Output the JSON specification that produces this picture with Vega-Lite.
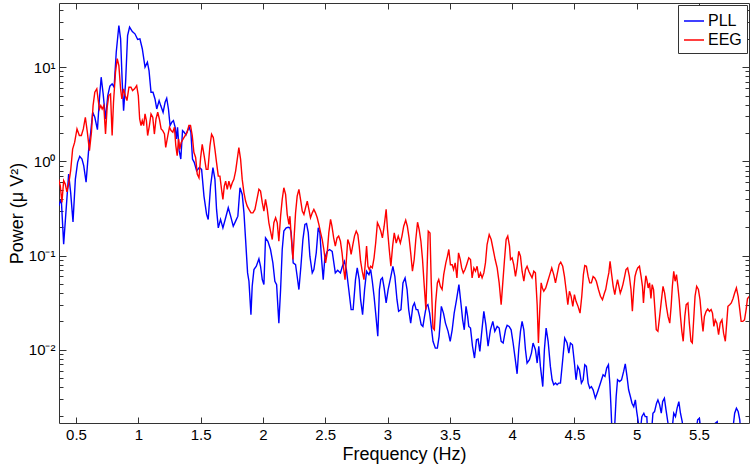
{
"$schema": "https://vega.github.io/schema/vega-lite/v6.json",
"width": 690, "height": 420,
"autosize": "none",
"padding": {"left": 59, "top": 3, "right": 1, "bottom": 41},
"background": "white",
"config": {
 "view": {"stroke": "#333333", "strokeWidth": 1},
 "font": "Liberation Sans",
 "axis": {"domain": false, "grid": false, "labelColor": "#000000", "titleColor": "#000000", "tickColor": "#333333", "labelFont": "Liberation Sans", "titleFont": "Liberation Sans", "labelFontSize": 15, "titleFontSize": 18, "titleFontWeight": "normal", "labelFlush": false, "labelOverlap": false}
},
"datasets": {"d": [
{"s":"PLL","f":0.360,"p":0.337},{"s":"PLL","f":0.382,"p":0.397},{"s":"PLL","f":0.401,"p":0.132},{"s":"PLL","f":0.419,"p":0.286},{"s":"PLL","f":0.441,"p":0.733},{"s":"PLL","f":0.457,"p":0.468},{"s":"PLL","f":0.476,"p":0.228},{"s":"PLL","f":0.495,"p":0.649},{"s":"PLL","f":0.513,"p":0.976},{"s":"PLL","f":0.530,"p":1.13},{"s":"PLL","f":0.548,"p":1.06},{"s":"PLL","f":0.562,"p":0.90},{"s":"PLL","f":0.581,"p":0.60},{"s":"PLL","f":0.602,"p":1.35},{"s":"PLL","f":0.618,"p":2.04},{"s":"PLL","f":0.634,"p":3.32},{"s":"PLL","f":0.651,"p":2.94},{"s":"PLL","f":0.672,"p":2.17},{"s":"PLL","f":0.688,"p":4.60},{"s":"PLL","f":0.702,"p":7.83},{"s":"PLL","f":0.718,"p":5.20},{"s":"PLL","f":0.737,"p":2.82},{"s":"PLL","f":0.755,"p":5.00},{"s":"PLL","f":0.772,"p":6.28},{"s":"PLL","f":0.790,"p":6.65},{"s":"PLL","f":0.806,"p":6.13},{"s":"PLL","f":0.823,"p":14.4},{"s":"PLL","f":0.844,"p":27.7},{"s":"PLL","f":0.858,"p":20.0},{"s":"PLL","f":0.871,"p":6.92},{"s":"PLL","f":0.882,"p":3.46},{"s":"PLL","f":0.898,"p":6.92},{"s":"PLL","f":0.914,"p":21.7},{"s":"PLL","f":0.930,"p":26.6},{"s":"PLL","f":0.952,"p":23.9},{"s":"PLL","f":0.973,"p":22.6},{"s":"PLL","f":0.995,"p":19.7},{"s":"PLL","f":1.013,"p":20.0},{"s":"PLL","f":1.032,"p":15.7},{"s":"PLL","f":1.054,"p":10.0},{"s":"PLL","f":1.073,"p":11.3},{"s":"PLL","f":1.086,"p":9.22},{"s":"PLL","f":1.102,"p":5.42},{"s":"PLL","f":1.118,"p":5.42},{"s":"PLL","f":1.134,"p":4.60},{"s":"PLL","f":1.148,"p":3.60},{"s":"PLL","f":1.167,"p":4.42},{"s":"PLL","f":1.180,"p":3.91},{"s":"PLL","f":1.199,"p":3.32},{"s":"PLL","f":1.215,"p":4.24},{"s":"PLL","f":1.228,"p":4.68},{"s":"PLL","f":1.242,"p":3.60},{"s":"PLL","f":1.255,"p":2.40},{"s":"PLL","f":1.269,"p":2.60},{"s":"PLL","f":1.282,"p":2.71},{"s":"PLL","f":1.296,"p":2.30},{"s":"PLL","f":1.306,"p":1.73},{"s":"PLL","f":1.315,"p":2.30},{"s":"PLL","f":1.328,"p":1.30},{"s":"PLL","f":1.341,"p":1.06},{"s":"PLL","f":1.355,"p":2.12},{"s":"PLL","f":1.368,"p":2.04},{"s":"PLL","f":1.382,"p":1.91},{"s":"PLL","f":1.395,"p":2.12},{"s":"PLL","f":1.409,"p":2.30},{"s":"PLL","f":1.422,"p":2.04},{"s":"PLL","f":1.435,"p":1.06},{"s":"PLL","f":1.449,"p":0.976},{"s":"PLL","f":1.468,"p":0.796},{"s":"PLL","f":1.490,"p":0.86},{"s":"PLL","f":1.508,"p":0.822},{"s":"PLL","f":1.527,"p":0.428},{"s":"PLL","f":1.548,"p":0.274},{"s":"PLL","f":1.561,"p":0.242},{"s":"PLL","f":1.580,"p":0.547},{"s":"PLL","f":1.599,"p":0.857},{"s":"PLL","f":1.615,"p":0.644},{"s":"PLL","f":1.628,"p":0.309},{"s":"PLL","f":1.642,"p":0.197},{"s":"PLL","f":1.660,"p":0.242},{"s":"PLL","f":1.679,"p":0.197},{"s":"PLL","f":1.701,"p":0.252},{"s":"PLL","f":1.722,"p":0.322},{"s":"PLL","f":1.741,"p":0.262},{"s":"PLL","f":1.762,"p":0.205},{"s":"PLL","f":1.781,"p":0.232},{"s":"PLL","f":1.799,"p":0.262},{"s":"PLL","f":1.816,"p":0.525},{"s":"PLL","f":1.834,"p":0.446},{"s":"PLL","f":1.848,"p":0.284},{"s":"PLL","f":1.861,"p":0.148},{"s":"PLL","f":1.877,"p":0.0655},{"s":"PLL","f":1.888,"p":0.0534},{"s":"PLL","f":1.904,"p":0.0236},{"s":"PLL","f":1.914,"p":0.0472},{"s":"PLL","f":1.928,"p":0.071},{"s":"PLL","f":1.947,"p":0.077},{"s":"PLL","f":1.968,"p":0.0923},{"s":"PLL","f":1.981,"p":0.077},{"s":"PLL","f":1.995,"p":0.0556},{"s":"PLL","f":2.008,"p":0.0492},{"s":"PLL","f":2.021,"p":0.154},{"s":"PLL","f":2.040,"p":0.142},{"s":"PLL","f":2.061,"p":0.116},{"s":"PLL","f":2.080,"p":0.0836},{"s":"PLL","f":2.096,"p":0.0534},{"s":"PLL","f":2.110,"p":0.0492},{"s":"PLL","f":2.128,"p":0.0192},{"s":"PLL","f":2.142,"p":0.0436},{"s":"PLL","f":2.155,"p":0.116},{"s":"PLL","f":2.168,"p":0.182},{"s":"PLL","f":2.187,"p":0.197},{"s":"PLL","f":2.203,"p":0.200},{"s":"PLL","f":2.217,"p":0.197},{"s":"PLL","f":2.227,"p":0.175},{"s":"PLL","f":2.243,"p":0.0836},{"s":"PLL","f":2.262,"p":0.080},{"s":"PLL","f":2.275,"p":0.060},{"s":"PLL","f":2.289,"p":0.0436},{"s":"PLL","f":2.305,"p":0.077},{"s":"PLL","f":2.321,"p":0.148},{"s":"PLL","f":2.337,"p":0.214},{"s":"PLL","f":2.350,"p":0.219},{"s":"PLL","f":2.364,"p":0.175},{"s":"PLL","f":2.377,"p":0.0985},{"s":"PLL","f":2.396,"p":0.0655},{"s":"PLL","f":2.409,"p":0.071},{"s":"PLL","f":2.428,"p":0.107},{"s":"PLL","f":2.444,"p":0.197},{"s":"PLL","f":2.457,"p":0.175},{"s":"PLL","f":2.471,"p":0.0908},{"s":"PLL","f":2.484,"p":0.0556},{"s":"PLL","f":2.497,"p":0.0946},{"s":"PLL","f":2.516,"p":0.111},{"s":"PLL","f":2.535,"p":0.116},{"s":"PLL","f":2.556,"p":0.111},{"s":"PLL","f":2.581,"p":0.0655},{"s":"PLL","f":2.600,"p":0.0698},{"s":"PLL","f":2.622,"p":0.0655},{"s":"PLL","f":2.638,"p":0.077},{"s":"PLL","f":2.654,"p":0.0871},{"s":"PLL","f":2.670,"p":0.071},{"s":"PLL","f":2.689,"p":0.0436},{"s":"PLL","f":2.708,"p":0.0267},{"s":"PLL","f":2.724,"p":0.0267},{"s":"PLL","f":2.743,"p":0.0556},{"s":"PLL","f":2.757,"p":0.074},{"s":"PLL","f":2.773,"p":0.0556},{"s":"PLL","f":2.784,"p":0.034},{"s":"PLL","f":2.800,"p":0.0236},{"s":"PLL","f":2.816,"p":0.0436},{"s":"PLL","f":2.832,"p":0.0682},{"s":"PLL","f":2.851,"p":0.0628},{"s":"PLL","f":2.865,"p":0.071},{"s":"PLL","f":2.878,"p":0.0534},{"s":"PLL","f":2.892,"p":0.037},{"s":"PLL","f":2.905,"p":0.0245},{"s":"PLL","f":2.922,"p":0.0139},{"s":"PLL","f":2.935,"p":0.0436},{"s":"PLL","f":2.946,"p":0.0556},{"s":"PLL","f":2.959,"p":0.058},{"s":"PLL","f":2.973,"p":0.0453},{"s":"PLL","f":2.989,"p":0.0314},{"s":"PLL","f":3.005,"p":0.0436},{"s":"PLL","f":3.027,"p":0.060},{"s":"PLL","f":3.043,"p":0.077},{"s":"PLL","f":3.059,"p":0.060},{"s":"PLL","f":3.076,"p":0.034},{"s":"PLL","f":3.089,"p":0.0256},{"s":"PLL","f":3.108,"p":0.0267},{"s":"PLL","f":3.124,"p":0.0513},{"s":"PLL","f":3.141,"p":0.058},{"s":"PLL","f":3.157,"p":0.0436},{"s":"PLL","f":3.170,"p":0.0267},{"s":"PLL","f":3.186,"p":0.0192},{"s":"PLL","f":3.203,"p":0.0289},{"s":"PLL","f":3.216,"p":0.0314},{"s":"PLL","f":3.230,"p":0.0267},{"s":"PLL","f":3.243,"p":0.0267},{"s":"PLL","f":3.257,"p":0.0226},{"s":"PLL","f":3.270,"p":0.0185},{"s":"PLL","f":3.284,"p":0.0177},{"s":"PLL","f":3.297,"p":0.0226},{"s":"PLL","f":3.311,"p":0.0289},{"s":"PLL","f":3.324,"p":0.0301},{"s":"PLL","f":3.338,"p":0.0245},{"s":"PLL","f":3.351,"p":0.0177},{"s":"PLL","f":3.365,"p":0.0123},{"s":"PLL","f":3.384,"p":0.0104},{"s":"PLL","f":3.400,"p":0.0104},{"s":"PLL","f":3.414,"p":0.0139},{"s":"PLL","f":3.432,"p":0.0289},{"s":"PLL","f":3.449,"p":0.0245},{"s":"PLL","f":3.465,"p":0.0192},{"s":"PLL","f":3.486,"p":0.0157},{"s":"PLL","f":3.503,"p":0.0123},{"s":"PLL","f":3.519,"p":0.0163},{"s":"PLL","f":3.535,"p":0.0245},{"s":"PLL","f":3.554,"p":0.034},{"s":"PLL","f":3.573,"p":0.0492},{"s":"PLL","f":3.589,"p":0.0314},{"s":"PLL","f":3.603,"p":0.0208},{"s":"PLL","f":3.616,"p":0.0163},{"s":"PLL","f":3.630,"p":0.0289},{"s":"PLL","f":3.643,"p":0.0226},{"s":"PLL","f":3.652,"p":0.0177},{"s":"PLL","f":3.666,"p":0.017},{"s":"PLL","f":3.682,"p":0.0109},{"s":"PLL","f":3.698,"p":0.00817},{"s":"PLL","f":3.714,"p":0.0128},{"s":"PLL","f":3.727,"p":0.013},{"s":"PLL","f":3.741,"p":0.0096},{"s":"PLL","f":3.754,"p":0.0145},{"s":"PLL","f":3.773,"p":0.0256},{"s":"PLL","f":3.789,"p":0.0185},{"s":"PLL","f":3.807,"p":0.0109},{"s":"PLL","f":3.826,"p":0.0163},{"s":"PLL","f":3.845,"p":0.020},{"s":"PLL","f":3.861,"p":0.0157},{"s":"PLL","f":3.880,"p":0.0177},{"s":"PLL","f":3.896,"p":0.017},{"s":"PLL","f":3.912,"p":0.0123},{"s":"PLL","f":3.928,"p":0.0118},{"s":"PLL","f":3.947,"p":0.0163},{"s":"PLL","f":3.960,"p":0.0182},{"s":"PLL","f":3.976,"p":0.0177},{"s":"PLL","f":3.992,"p":0.0163},{"s":"PLL","f":4.008,"p":0.0118},{"s":"PLL","f":4.024,"p":0.00817},{"s":"PLL","f":4.040,"p":0.00556},{"s":"PLL","f":4.053,"p":0.010},{"s":"PLL","f":4.067,"p":0.0157},{"s":"PLL","f":4.080,"p":0.020},{"s":"PLL","f":4.094,"p":0.0163},{"s":"PLL","f":4.107,"p":0.010},{"s":"PLL","f":4.120,"p":0.00723},{"s":"PLL","f":4.139,"p":0.00784},{"s":"PLL","f":4.155,"p":0.00922},{"s":"PLL","f":4.168,"p":0.0118},{"s":"PLL","f":4.187,"p":0.010},{"s":"PLL","f":4.201,"p":0.00723},{"s":"PLL","f":4.214,"p":0.0109},{"s":"PLL","f":4.227,"p":0.00666},{"s":"PLL","f":4.246,"p":0.00407},{"s":"PLL","f":4.259,"p":0.010},{"s":"PLL","f":4.273,"p":0.017},{"s":"PLL","f":4.289,"p":0.0123},{"s":"PLL","f":4.307,"p":0.00666},{"s":"PLL","f":4.321,"p":0.0048},{"s":"PLL","f":4.334,"p":0.00425},{"s":"PLL","f":4.348,"p":0.00443},{"s":"PLL","f":4.361,"p":0.00425},{"s":"PLL","f":4.374,"p":0.00443},{"s":"PLL","f":4.388,"p":0.00443},{"s":"PLL","f":4.406,"p":0.00784},{"s":"PLL","f":4.422,"p":0.0133},{"s":"PLL","f":4.441,"p":0.0118},{"s":"PLL","f":4.455,"p":0.00922},{"s":"PLL","f":4.468,"p":0.0118},{"s":"PLL","f":4.484,"p":0.0113},{"s":"PLL","f":4.500,"p":0.00723},{"s":"PLL","f":4.513,"p":0.0048},{"s":"PLL","f":4.527,"p":0.00666},{"s":"PLL","f":4.540,"p":0.00614},{"s":"PLL","f":4.556,"p":0.00443},{"s":"PLL","f":4.570,"p":0.0048},{"s":"PLL","f":4.583,"p":0.00693},{"s":"PLL","f":4.596,"p":0.00666},{"s":"PLL","f":4.610,"p":0.00443},{"s":"PLL","f":4.623,"p":0.00391},{"s":"PLL","f":4.636,"p":0.00407},{"s":"PLL","f":4.650,"p":0.00376},{"s":"PLL","f":4.668,"p":0.00306},{"s":"PLL","f":4.687,"p":0.00361},{"s":"PLL","f":4.709,"p":0.00443},{"s":"PLL","f":4.730,"p":0.00542},{"s":"PLL","f":4.745,"p":0.00521},{"s":"PLL","f":4.759,"p":0.00639},{"s":"PLL","f":4.773,"p":0.00693},{"s":"PLL","f":4.784,"p":0.00443},{"s":"PLL","f":4.792,"p":0.00271},{"s":"PLL","f":4.803,"p":0.0012},{"s":"PLL","f":4.819,"p":0.0012},{"s":"PLL","f":4.835,"p":0.00319},{"s":"PLL","f":4.846,"p":0.0048},{"s":"PLL","f":4.862,"p":0.0046},{"s":"PLL","f":4.878,"p":0.0048},{"s":"PLL","f":4.895,"p":0.00589},{"s":"PLL","f":4.908,"p":0.0071},{"s":"PLL","f":4.922,"p":0.00521},{"s":"PLL","f":4.935,"p":0.00376},{"s":"PLL","f":4.949,"p":0.00319},{"s":"PLL","f":4.962,"p":0.00271},{"s":"PLL","f":4.976,"p":0.00249},{"s":"PLL","f":4.989,"p":0.00294},{"s":"PLL","f":5.000,"p":0.00221},{"s":"PLL","f":5.014,"p":0.00166},{"s":"PLL","f":5.024,"p":0.0012},{"s":"PLL","f":5.041,"p":0.00195},{"s":"PLL","f":5.057,"p":0.00212},{"s":"PLL","f":5.068,"p":0.00195},{"s":"PLL","f":5.081,"p":0.00195},{"s":"PLL","f":5.089,"p":0.0012},{"s":"PLL","f":5.116,"p":0.0012},{"s":"PLL","f":5.130,"p":0.00212},{"s":"PLL","f":5.143,"p":0.00221},{"s":"PLL","f":5.159,"p":0.00271},{"s":"PLL","f":5.170,"p":0.00294},{"s":"PLL","f":5.184,"p":0.0026},{"s":"PLL","f":5.197,"p":0.00212},{"s":"PLL","f":5.208,"p":0.00282},{"s":"PLL","f":5.222,"p":0.00306},{"s":"PLL","f":5.235,"p":0.0023},{"s":"PLL","f":5.251,"p":0.00166},{"s":"PLL","f":5.278,"p":0.0012},{"s":"PLL","f":5.297,"p":0.00212},{"s":"PLL","f":5.311,"p":0.00195},{"s":"PLL","f":5.324,"p":0.0024},{"s":"PLL","f":5.338,"p":0.00282},{"s":"PLL","f":5.351,"p":0.00212},{"s":"PLL","f":5.365,"p":0.00173},{"s":"PLL","f":5.376,"p":0.0012},{"s":"PLL","f":5.468,"p":0.0012},{"s":"PLL","f":5.489,"p":0.0018},{"s":"PLL","f":5.503,"p":0.00188},{"s":"PLL","f":5.522,"p":0.0012},{"s":"PLL","f":5.630,"p":0.00166},{"s":"PLL","f":5.646,"p":0.00173},{"s":"PLL","f":5.657,"p":0.0012},{"s":"PLL","f":5.765,"p":0.0012},{"s":"PLL","f":5.786,"p":0.00212},{"s":"PLL","f":5.800,"p":0.0024},{"s":"PLL","f":5.814,"p":0.00221},{"s":"PLL","f":5.827,"p":0.0018},{"s":"PLL","f":5.838,"p":0.0012},{"s":"PLL","f":5.950,"p":0.0012},
{"s":"EEG","f":0.360,"p":0.649},{"s":"EEG","f":0.374,"p":0.551},{"s":"EEG","f":0.387,"p":0.366},{"s":"EEG","f":0.401,"p":0.623},{"s":"EEG","f":0.414,"p":0.574},{"s":"EEG","f":0.427,"p":0.476},{"s":"EEG","f":0.441,"p":0.574},{"s":"EEG","f":0.457,"p":0.796},{"s":"EEG","f":0.473,"p":1.35},{"s":"EEG","f":0.489,"p":1.59},{"s":"EEG","f":0.508,"p":2.21},{"s":"EEG","f":0.527,"p":1.88},{"s":"EEG","f":0.543,"p":1.88},{"s":"EEG","f":0.559,"p":2.21},{"s":"EEG","f":0.575,"p":2.94},{"s":"EEG","f":0.591,"p":2.04},{"s":"EEG","f":0.608,"p":1.30},{"s":"EEG","f":0.624,"p":2.04},{"s":"EEG","f":0.637,"p":3.91},{"s":"EEG","f":0.651,"p":5.42},{"s":"EEG","f":0.667,"p":5.88},{"s":"EEG","f":0.677,"p":4.60},{"s":"EEG","f":0.688,"p":3.60},{"s":"EEG","f":0.699,"p":3.91},{"s":"EEG","f":0.710,"p":3.60},{"s":"EEG","f":0.723,"p":3.91},{"s":"EEG","f":0.737,"p":1.95},{"s":"EEG","f":0.750,"p":3.75},{"s":"EEG","f":0.763,"p":5.00},{"s":"EEG","f":0.777,"p":5.20},{"s":"EEG","f":0.790,"p":1.88},{"s":"EEG","f":0.801,"p":4.24},{"s":"EEG","f":0.817,"p":8.85},{"s":"EEG","f":0.831,"p":12.3},{"s":"EEG","f":0.844,"p":10.4},{"s":"EEG","f":0.858,"p":5.88},{"s":"EEG","f":0.868,"p":4.60},{"s":"EEG","f":0.882,"p":5.88},{"s":"EEG","f":0.895,"p":5.00},{"s":"EEG","f":0.909,"p":4.42},{"s":"EEG","f":0.925,"p":6.13},{"s":"EEG","f":0.941,"p":6.13},{"s":"EEG","f":0.954,"p":5.64},{"s":"EEG","f":0.970,"p":5.88},{"s":"EEG","f":0.987,"p":6.38},{"s":"EEG","f":1.000,"p":5.00},{"s":"EEG","f":1.011,"p":2.82},{"s":"EEG","f":1.022,"p":2.40},{"s":"EEG","f":1.032,"p":2.71},{"s":"EEG","f":1.043,"p":2.40},{"s":"EEG","f":1.054,"p":3.19},{"s":"EEG","f":1.065,"p":2.71},{"s":"EEG","f":1.075,"p":1.88},{"s":"EEG","f":1.089,"p":2.40},{"s":"EEG","f":1.102,"p":3.19},{"s":"EEG","f":1.116,"p":2.94},{"s":"EEG","f":1.129,"p":1.95},{"s":"EEG","f":1.142,"p":2.82},{"s":"EEG","f":1.156,"p":3.32},{"s":"EEG","f":1.169,"p":2.82},{"s":"EEG","f":1.183,"p":2.21},{"s":"EEG","f":1.196,"p":2.12},{"s":"EEG","f":1.210,"p":1.95},{"s":"EEG","f":1.220,"p":1.41},{"s":"EEG","f":1.237,"p":1.88},{"s":"EEG","f":1.250,"p":2.30},{"s":"EEG","f":1.263,"p":2.12},{"s":"EEG","f":1.277,"p":2.04},{"s":"EEG","f":1.290,"p":2.30},{"s":"EEG","f":1.301,"p":1.47},{"s":"EEG","f":1.312,"p":1.15},{"s":"EEG","f":1.323,"p":1.73},{"s":"EEG","f":1.333,"p":1.35},{"s":"EEG","f":1.344,"p":1.59},{"s":"EEG","f":1.360,"p":1.73},{"s":"EEG","f":1.376,"p":1.88},{"s":"EEG","f":1.392,"p":2.04},{"s":"EEG","f":1.406,"p":2.40},{"s":"EEG","f":1.419,"p":2.40},{"s":"EEG","f":1.433,"p":1.88},{"s":"EEG","f":1.446,"p":1.25},{"s":"EEG","f":1.460,"p":1.10},{"s":"EEG","f":1.473,"p":0.733},{"s":"EEG","f":1.487,"p":0.67},{"s":"EEG","f":1.500,"p":1.09},{"s":"EEG","f":1.513,"p":1.52},{"s":"EEG","f":1.529,"p":1.14},{"s":"EEG","f":1.545,"p":0.822},{"s":"EEG","f":1.559,"p":0.822},{"s":"EEG","f":1.575,"p":1.46},{"s":"EEG","f":1.588,"p":1.94},{"s":"EEG","f":1.602,"p":1.79},{"s":"EEG","f":1.615,"p":1.34},{"s":"EEG","f":1.628,"p":0.968},{"s":"EEG","f":1.642,"p":0.698},{"s":"EEG","f":1.655,"p":0.698},{"s":"EEG","f":1.668,"p":0.505},{"s":"EEG","f":1.679,"p":0.395},{"s":"EEG","f":1.690,"p":0.547},{"s":"EEG","f":1.701,"p":0.618},{"s":"EEG","f":1.714,"p":0.505},{"s":"EEG","f":1.727,"p":0.618},{"s":"EEG","f":1.741,"p":0.525},{"s":"EEG","f":1.754,"p":0.593},{"s":"EEG","f":1.767,"p":0.644},{"s":"EEG","f":1.781,"p":0.79},{"s":"EEG","f":1.794,"p":1.05},{"s":"EEG","f":1.807,"p":1.40},{"s":"EEG","f":1.821,"p":1.05},{"s":"EEG","f":1.834,"p":0.644},{"s":"EEG","f":1.848,"p":0.464},{"s":"EEG","f":1.861,"p":0.379},{"s":"EEG","f":1.874,"p":0.335},{"s":"EEG","f":1.888,"p":0.309},{"s":"EEG","f":1.904,"p":0.284},{"s":"EEG","f":1.920,"p":0.284},{"s":"EEG","f":1.936,"p":0.309},{"s":"EEG","f":1.952,"p":0.395},{"s":"EEG","f":1.968,"p":0.505},{"s":"EEG","f":1.981,"p":0.484},{"s":"EEG","f":1.995,"p":0.364},{"s":"EEG","f":2.008,"p":0.297},{"s":"EEG","f":2.021,"p":0.395},{"s":"EEG","f":2.035,"p":0.309},{"s":"EEG","f":2.048,"p":0.223},{"s":"EEG","f":2.061,"p":0.182},{"s":"EEG","f":2.075,"p":0.148},{"s":"EEG","f":2.088,"p":0.223},{"s":"EEG","f":2.102,"p":0.252},{"s":"EEG","f":2.115,"p":0.223},{"s":"EEG","f":2.128,"p":0.142},{"s":"EEG","f":2.142,"p":0.262},{"s":"EEG","f":2.155,"p":0.395},{"s":"EEG","f":2.168,"p":0.525},{"s":"EEG","f":2.182,"p":0.446},{"s":"EEG","f":2.195,"p":0.274},{"s":"EEG","f":2.209,"p":0.214},{"s":"EEG","f":2.217,"p":0.262},{"s":"EEG","f":2.227,"p":0.161},{"s":"EEG","f":2.241,"p":0.0908},{"s":"EEG","f":2.251,"p":0.161},{"s":"EEG","f":2.262,"p":0.284},{"s":"EEG","f":2.275,"p":0.428},{"s":"EEG","f":2.289,"p":0.505},{"s":"EEG","f":2.302,"p":0.395},{"s":"EEG","f":2.316,"p":0.297},{"s":"EEG","f":2.329,"p":0.274},{"s":"EEG","f":2.342,"p":0.322},{"s":"EEG","f":2.356,"p":0.379},{"s":"EEG","f":2.369,"p":0.309},{"s":"EEG","f":2.382,"p":0.252},{"s":"EEG","f":2.396,"p":0.284},{"s":"EEG","f":2.409,"p":0.309},{"s":"EEG","f":2.422,"p":0.284},{"s":"EEG","f":2.436,"p":0.252},{"s":"EEG","f":2.449,"p":0.214},{"s":"EEG","f":2.463,"p":0.175},{"s":"EEG","f":2.476,"p":0.148},{"s":"EEG","f":2.489,"p":0.116},{"s":"EEG","f":2.503,"p":0.0836},{"s":"EEG","f":2.516,"p":0.107},{"s":"EEG","f":2.529,"p":0.175},{"s":"EEG","f":2.543,"p":0.242},{"s":"EEG","f":2.554,"p":0.205},{"s":"EEG","f":2.568,"p":0.154},{"s":"EEG","f":2.581,"p":0.126},{"s":"EEG","f":2.595,"p":0.154},{"s":"EEG","f":2.608,"p":0.161},{"s":"EEG","f":2.622,"p":0.142},{"s":"EEG","f":2.635,"p":0.107},{"s":"EEG","f":2.649,"p":0.071},{"s":"EEG","f":2.659,"p":0.0556},{"s":"EEG","f":2.670,"p":0.0908},{"s":"EEG","f":2.681,"p":0.148},{"s":"EEG","f":2.695,"p":0.131},{"s":"EEG","f":2.708,"p":0.103},{"s":"EEG","f":2.722,"p":0.131},{"s":"EEG","f":2.735,"p":0.161},{"s":"EEG","f":2.749,"p":0.182},{"s":"EEG","f":2.762,"p":0.167},{"s":"EEG","f":2.773,"p":0.126},{"s":"EEG","f":2.784,"p":0.0871},{"s":"EEG","f":2.797,"p":0.0682},{"s":"EEG","f":2.811,"p":0.0556},{"s":"EEG","f":2.824,"p":0.0908},{"s":"EEG","f":2.832,"p":0.126},{"s":"EEG","f":2.843,"p":0.077},{"s":"EEG","f":2.854,"p":0.071},{"s":"EEG","f":2.865,"p":0.077},{"s":"EEG","f":2.878,"p":0.074},{"s":"EEG","f":2.892,"p":0.0946},{"s":"EEG","f":2.905,"p":0.136},{"s":"EEG","f":2.919,"p":0.223},{"s":"EEG","f":2.932,"p":0.205},{"s":"EEG","f":2.946,"p":0.182},{"s":"EEG","f":2.959,"p":0.154},{"s":"EEG","f":2.973,"p":0.205},{"s":"EEG","f":2.989,"p":0.309},{"s":"EEG","f":3.000,"p":0.189},{"s":"EEG","f":3.014,"p":0.116},{"s":"EEG","f":3.027,"p":0.077},{"s":"EEG","f":3.041,"p":0.126},{"s":"EEG","f":3.054,"p":0.174},{"s":"EEG","f":3.070,"p":0.136},{"s":"EEG","f":3.086,"p":0.161},{"s":"EEG","f":3.103,"p":0.136},{"s":"EEG","f":3.116,"p":0.161},{"s":"EEG","f":3.130,"p":0.205},{"s":"EEG","f":3.146,"p":0.238},{"s":"EEG","f":3.159,"p":0.205},{"s":"EEG","f":3.173,"p":0.154},{"s":"EEG","f":3.186,"p":0.107},{"s":"EEG","f":3.200,"p":0.0682},{"s":"EEG","f":3.214,"p":0.0908},{"s":"EEG","f":3.227,"p":0.148},{"s":"EEG","f":3.241,"p":0.226},{"s":"EEG","f":3.254,"p":0.189},{"s":"EEG","f":3.268,"p":0.142},{"s":"EEG","f":3.281,"p":0.0908},{"s":"EEG","f":3.295,"p":0.0472},{"s":"EEG","f":3.308,"p":0.0267},{"s":"EEG","f":3.319,"p":0.0836},{"s":"EEG","f":3.327,"p":0.182},{"s":"EEG","f":3.341,"p":0.174},{"s":"EEG","f":3.351,"p":0.0513},{"s":"EEG","f":3.365,"p":0.017},{"s":"EEG","f":3.376,"p":0.0163},{"s":"EEG","f":3.386,"p":0.0314},{"s":"EEG","f":3.400,"p":0.0513},{"s":"EEG","f":3.411,"p":0.0556},{"s":"EEG","f":3.424,"p":0.0472},{"s":"EEG","f":3.438,"p":0.0436},{"s":"EEG","f":3.451,"p":0.0628},{"s":"EEG","f":3.468,"p":0.0836},{"s":"EEG","f":3.481,"p":0.0985},{"s":"EEG","f":3.492,"p":0.116},{"s":"EEG","f":3.505,"p":0.080},{"s":"EEG","f":3.519,"p":0.080},{"s":"EEG","f":3.530,"p":0.071},{"s":"EEG","f":3.543,"p":0.0836},{"s":"EEG","f":3.557,"p":0.058},{"s":"EEG","f":3.570,"p":0.107},{"s":"EEG","f":3.584,"p":0.0908},{"s":"EEG","f":3.595,"p":0.074},{"s":"EEG","f":3.608,"p":0.0655},{"s":"EEG","f":3.622,"p":0.071},{"s":"EEG","f":3.635,"p":0.080},{"s":"EEG","f":3.652,"p":0.0946},{"s":"EEG","f":3.666,"p":0.0908},{"s":"EEG","f":3.679,"p":0.058},{"s":"EEG","f":3.693,"p":0.074},{"s":"EEG","f":3.706,"p":0.0682},{"s":"EEG","f":3.719,"p":0.077},{"s":"EEG","f":3.733,"p":0.058},{"s":"EEG","f":3.746,"p":0.0655},{"s":"EEG","f":3.759,"p":0.058},{"s":"EEG","f":3.773,"p":0.0655},{"s":"EEG","f":3.786,"p":0.0836},{"s":"EEG","f":3.799,"p":0.131},{"s":"EEG","f":3.816,"p":0.167},{"s":"EEG","f":3.832,"p":0.148},{"s":"EEG","f":3.848,"p":0.116},{"s":"EEG","f":3.864,"p":0.0908},{"s":"EEG","f":3.880,"p":0.074},{"s":"EEG","f":3.896,"p":0.0513},{"s":"EEG","f":3.912,"p":0.0301},{"s":"EEG","f":3.925,"p":0.0513},{"s":"EEG","f":3.939,"p":0.0908},{"s":"EEG","f":3.952,"p":0.148},{"s":"EEG","f":3.965,"p":0.161},{"s":"EEG","f":3.979,"p":0.126},{"s":"EEG","f":3.987,"p":0.0908},{"s":"EEG","f":4.000,"p":0.0946},{"s":"EEG","f":4.013,"p":0.080},{"s":"EEG","f":4.027,"p":0.060},{"s":"EEG","f":4.040,"p":0.077},{"s":"EEG","f":4.053,"p":0.111},{"s":"EEG","f":4.067,"p":0.0985},{"s":"EEG","f":4.080,"p":0.0682},{"s":"EEG","f":4.094,"p":0.0534},{"s":"EEG","f":4.107,"p":0.071},{"s":"EEG","f":4.120,"p":0.077},{"s":"EEG","f":4.134,"p":0.0682},{"s":"EEG","f":4.147,"p":0.0628},{"s":"EEG","f":4.160,"p":0.058},{"s":"EEG","f":4.174,"p":0.0682},{"s":"EEG","f":4.187,"p":0.0655},{"s":"EEG","f":4.201,"p":0.0301},{"s":"EEG","f":4.211,"p":0.0118},{"s":"EEG","f":4.222,"p":0.0267},{"s":"EEG","f":4.233,"p":0.0513},{"s":"EEG","f":4.243,"p":0.0453},{"s":"EEG","f":4.254,"p":0.0418},{"s":"EEG","f":4.270,"p":0.0453},{"s":"EEG","f":4.286,"p":0.0534},{"s":"EEG","f":4.302,"p":0.0628},{"s":"EEG","f":4.318,"p":0.074},{"s":"EEG","f":4.334,"p":0.0628},{"s":"EEG","f":4.348,"p":0.0513},{"s":"EEG","f":4.361,"p":0.0628},{"s":"EEG","f":4.377,"p":0.080},{"s":"EEG","f":4.390,"p":0.085},{"s":"EEG","f":4.406,"p":0.077},{"s":"EEG","f":4.420,"p":0.060},{"s":"EEG","f":4.433,"p":0.0436},{"s":"EEG","f":4.447,"p":0.0301},{"s":"EEG","f":4.460,"p":0.0418},{"s":"EEG","f":4.473,"p":0.037},{"s":"EEG","f":4.487,"p":0.0289},{"s":"EEG","f":4.500,"p":0.0385},{"s":"EEG","f":4.513,"p":0.0327},{"s":"EEG","f":4.529,"p":0.0289},{"s":"EEG","f":4.545,"p":0.0245},{"s":"EEG","f":4.559,"p":0.037},{"s":"EEG","f":4.572,"p":0.0628},{"s":"EEG","f":4.583,"p":0.0784},{"s":"EEG","f":4.596,"p":0.077},{"s":"EEG","f":4.610,"p":0.060},{"s":"EEG","f":4.623,"p":0.0513},{"s":"EEG","f":4.636,"p":0.0513},{"s":"EEG","f":4.650,"p":0.060},{"s":"EEG","f":4.663,"p":0.058},{"s":"EEG","f":4.676,"p":0.0534},{"s":"EEG","f":4.693,"p":0.0436},{"s":"EEG","f":4.709,"p":0.037},{"s":"EEG","f":4.725,"p":0.034},{"s":"EEG","f":4.741,"p":0.040},{"s":"EEG","f":4.751,"p":0.0436},{"s":"EEG","f":4.765,"p":0.0556},{"s":"EEG","f":4.776,"p":0.0655},{"s":"EEG","f":4.786,"p":0.0871},{"s":"EEG","f":4.797,"p":0.0655},{"s":"EEG","f":4.811,"p":0.0472},{"s":"EEG","f":4.824,"p":0.0385},{"s":"EEG","f":4.835,"p":0.0472},{"s":"EEG","f":4.846,"p":0.0556},{"s":"EEG","f":4.857,"p":0.0472},{"s":"EEG","f":4.868,"p":0.040},{"s":"EEG","f":4.878,"p":0.0436},{"s":"EEG","f":4.889,"p":0.0492},{"s":"EEG","f":4.903,"p":0.060},{"s":"EEG","f":4.914,"p":0.071},{"s":"EEG","f":4.927,"p":0.074},{"s":"EEG","f":4.941,"p":0.060},{"s":"EEG","f":4.954,"p":0.0436},{"s":"EEG","f":4.965,"p":0.0256},{"s":"EEG","f":4.976,"p":0.0436},{"s":"EEG","f":4.986,"p":0.060},{"s":"EEG","f":4.997,"p":0.0682},{"s":"EEG","f":5.008,"p":0.074},{"s":"EEG","f":5.022,"p":0.077},{"s":"EEG","f":5.035,"p":0.060},{"s":"EEG","f":5.046,"p":0.0472},{"s":"EEG","f":5.054,"p":0.0314},{"s":"EEG","f":5.062,"p":0.0436},{"s":"EEG","f":5.073,"p":0.061},{"s":"EEG","f":5.081,"p":0.0556},{"s":"EEG","f":5.092,"p":0.0453},{"s":"EEG","f":5.103,"p":0.0513},{"s":"EEG","f":5.114,"p":0.035},{"s":"EEG","f":5.124,"p":0.0492},{"s":"EEG","f":5.135,"p":0.0436},{"s":"EEG","f":5.146,"p":0.0267},{"s":"EEG","f":5.157,"p":0.0163},{"s":"EEG","f":5.170,"p":0.0157},{"s":"EEG","f":5.184,"p":0.0226},{"s":"EEG","f":5.197,"p":0.0327},{"s":"EEG","f":5.211,"p":0.0472},{"s":"EEG","f":5.224,"p":0.040},{"s":"EEG","f":5.238,"p":0.0289},{"s":"EEG","f":5.251,"p":0.0226},{"s":"EEG","f":5.265,"p":0.0192},{"s":"EEG","f":5.276,"p":0.0289},{"s":"EEG","f":5.286,"p":0.0472},{"s":"EEG","f":5.297,"p":0.0682},{"s":"EEG","f":5.308,"p":0.0534},{"s":"EEG","f":5.319,"p":0.0628},{"s":"EEG","f":5.330,"p":0.0472},{"s":"EEG","f":5.341,"p":0.034},{"s":"EEG","f":5.351,"p":0.0226},{"s":"EEG","f":5.362,"p":0.0157},{"s":"EEG","f":5.373,"p":0.0123},{"s":"EEG","f":5.386,"p":0.0226},{"s":"EEG","f":5.397,"p":0.0301},{"s":"EEG","f":5.411,"p":0.0314},{"s":"EEG","f":5.422,"p":0.0192},{"s":"EEG","f":5.435,"p":0.0123},{"s":"EEG","f":5.446,"p":0.0118},{"s":"EEG","f":5.457,"p":0.0208},{"s":"EEG","f":5.468,"p":0.037},{"s":"EEG","f":5.481,"p":0.0472},{"s":"EEG","f":5.495,"p":0.0436},{"s":"EEG","f":5.508,"p":0.034},{"s":"EEG","f":5.522,"p":0.0208},{"s":"EEG","f":5.532,"p":0.0157},{"s":"EEG","f":5.543,"p":0.0226},{"s":"EEG","f":5.557,"p":0.0256},{"s":"EEG","f":5.570,"p":0.0271},{"s":"EEG","f":5.584,"p":0.0256},{"s":"EEG","f":5.597,"p":0.0267},{"s":"EEG","f":5.608,"p":0.0245},{"s":"EEG","f":5.619,"p":0.0177},{"s":"EEG","f":5.630,"p":0.0208},{"s":"EEG","f":5.643,"p":0.0192},{"s":"EEG","f":5.657,"p":0.0145},{"s":"EEG","f":5.670,"p":0.0192},{"s":"EEG","f":5.684,"p":0.0208},{"s":"EEG","f":5.697,"p":0.015},{"s":"EEG","f":5.711,"p":0.0123},{"s":"EEG","f":5.722,"p":0.0192},{"s":"EEG","f":5.732,"p":0.0289},{"s":"EEG","f":5.746,"p":0.0301},{"s":"EEG","f":5.759,"p":0.0314},{"s":"EEG","f":5.773,"p":0.035},{"s":"EEG","f":5.786,"p":0.040},{"s":"EEG","f":5.800,"p":0.0453},{"s":"EEG","f":5.814,"p":0.037},{"s":"EEG","f":5.827,"p":0.0267},{"s":"EEG","f":5.838,"p":0.020},{"s":"EEG","f":5.851,"p":0.020},{"s":"EEG","f":5.865,"p":0.0208},{"s":"EEG","f":5.878,"p":0.0267},{"s":"EEG","f":5.889,"p":0.035},{"s":"EEG","f":5.905,"p":0.037}
]},
"data": {"name": "d"},
"layer": [
 {
  "mark": {"type": "line", "clip": true, "strokeWidth": 1.4},
  "encoding": {
   "x": {"field": "f", "type": "quantitative", "scale": {"domain": [0.3636, 5.901], "nice": false, "zero": false},
     "axis": {"orient": "bottom", "values": [0.5,1,1.5,2,2.5,3,3.5,4,4.5,5,5.5], "format": "~g", "tickSize": -6, "labelPadding": 10, "title": "Frequency (Hz)", "titlePadding": 3}},
   "y": {"field": "p", "type": "quantitative", "scale": {"type": "log", "domain": [0.00167, 48], "nice": false},
     "axis": {"orient": "left", "values": [0.01, 0.1, 1, 10], "tickSize": -7, "labelPadding": 11, "labelExpr": "datum.value >= 9 ? '10¹' : datum.value >= 0.9 ? '10⁰' : datum.value >= 0.09 ? '10⁻¹' : '10⁻²'", "title": "Power (μ V²)", "titlePadding": 2}},
   "color": {"field": "s", "type": "nominal", "scale": {"domain": ["PLL", "EEG"], "range": ["#0000ff", "#ff0000"]},
     "legend": {"title": null, "orient": "top-right", "offset": 2, "strokeColor": "#333333", "fillColor": "white", "padding": 5, "symbolType": "stroke", "symbolStrokeWidth": 1.5, "symbolSize": 400, "labelFontSize": 16, "labelFont": "Liberation Sans", "labelColor": "#000000", "rowPadding": 0, "labelOffset": 3, "cornerRadius": 0}}
  }
 },
 {
  "mark": {"type": "line", "opacity": 0},
  "encoding": {
   "x": {"field": "f", "type": "quantitative", "scale": {"domain": [0.3636, 5.901], "nice": false, "zero": false},
     "axis": {"orient": "top", "values": [0.5,1,1.5,2,2.5,3,3.5,4,4.5,5,5.5], "tickSize": -6, "labels": false, "title": null}},
   "y": {"field": "p", "type": "quantitative", "scale": {"type": "log", "domain": [0.00167, 48], "nice": false},
     "axis": {"orient": "right", "values": [0.01, 0.1, 1, 10], "tickSize": -7, "labels": false, "title": null}}
  }
 },
 {
  "mark": {"type": "line", "opacity": 0},
  "encoding": {
   "x": {"field": "f", "type": "quantitative", "scale": {"domain": [0.3636, 5.901], "nice": false, "zero": false}, "axis": null},
   "y": {"field": "p", "type": "quantitative", "scale": {"type": "log", "domain": [0.00167, 48], "nice": false},
     "axis": {"orient": "left", "values": [0.002,0.003,0.004,0.005,0.006,0.007,0.008,0.009,0.02,0.03,0.04,0.05,0.06,0.07,0.08,0.09,0.2,0.3,0.4,0.5,0.6,0.7,0.8,0.9,2,3,4,5,6,7,8,9,20,30,40], "tickSize": -4, "labels": false, "title": null}}
  }
 },
 {
  "mark": {"type": "line", "opacity": 0},
  "encoding": {
   "x": {"field": "f", "type": "quantitative", "scale": {"domain": [0.3636, 5.901], "nice": false, "zero": false}, "axis": null},
   "y": {"field": "p", "type": "quantitative", "scale": {"type": "log", "domain": [0.00167, 48], "nice": false},
     "axis": {"orient": "right", "values": [0.002,0.003,0.004,0.005,0.006,0.007,0.008,0.009,0.02,0.03,0.04,0.05,0.06,0.07,0.08,0.09,0.2,0.3,0.4,0.5,0.6,0.7,0.8,0.9,2,3,4,5,6,7,8,9,20,30,40], "tickSize": -4, "labels": false, "title": null}}
  }
 }
],
"resolve": {"axis": {"x": "independent", "y": "independent"}}
}
